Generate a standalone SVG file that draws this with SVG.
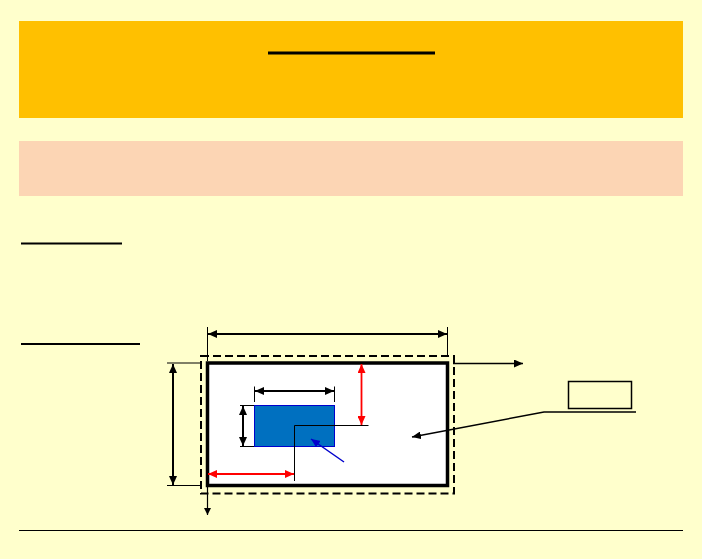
<svg xmlns="http://www.w3.org/2000/svg" width="702" height="559" viewBox="0 0 702 559">
<style>
.dim{stroke:#000;stroke-width:2;fill:none}
.red{stroke:#FF0000;stroke-width:1.8;fill:none}
.thin{stroke:#000;stroke-width:1;fill:none}
.ul{stroke:#000;fill:none}
</style>
<defs>
<marker id="ak" markerUnits="userSpaceOnUse" markerWidth="10" markerHeight="8" refX="9" refY="4" orient="auto-start-reverse"><path d="M0,0 L9,4 L0,8 z" fill="#000"/></marker>
<marker id="ar" markerUnits="userSpaceOnUse" markerWidth="10" markerHeight="8" refX="9" refY="4" orient="auto-start-reverse"><path d="M0,0 L9,4 L0,8 z" fill="#FF0000"/></marker>
<marker id="ab" markerUnits="userSpaceOnUse" markerWidth="10" markerHeight="8" refX="9" refY="4" orient="auto"><path d="M0,0 L9,4 L0,8 z" fill="#0000CC"/></marker>
<marker id="as" markerUnits="userSpaceOnUse" markerWidth="8" markerHeight="7" refX="7" refY="3.5" orient="auto"><path d="M0,0 L7,3.5 L0,7 z" fill="#000"/></marker>
</defs>
<rect x="0" y="0" width="702" height="559" fill="#FFFFCC"/>
<g id="header">
<rect x="19" y="21" width="664" height="97" fill="#FFC000"/>
<line class="ul" x1="268" y1="53" x2="435" y2="53" stroke-width="3"/>
</g>
<g id="subheader">
<rect x="19" y="141" width="664" height="55" fill="#FCD5B4"/>
</g>
<g id="headings">
<line class="ul" x1="21" y1="243.5" x2="122" y2="243.5" stroke-width="2"/>
<line class="ul" x1="21" y1="344" x2="140" y2="344" stroke-width="2"/>
</g>
<g id="outer-area">
<rect x="201" y="356" width="253" height="137.5" fill="none" stroke="#000" stroke-width="2" stroke-dasharray="8,4"/>
</g>
<g id="panel">
<rect x="207.5" y="363" width="240" height="122.5" fill="#FFFFFF" stroke="#000" stroke-width="3.5"/>
</g>
<g id="inner-block">
<rect x="254.5" y="405.5" width="80" height="41" fill="#0070C0" stroke="#0000CC" stroke-width="1"/>
</g>
<g id="label-box">
<rect x="568.5" y="381.5" width="63" height="27" fill="none" stroke="#000" stroke-width="1.5"/>
</g>
<g id="connectors">
<line class="thin" x1="207.5" y1="327" x2="207.5" y2="361"/>
<line class="thin" x1="447.5" y1="327" x2="447.5" y2="356"/>
<line class="dim" x1="208" y1="334" x2="447" y2="334" marker-start="url(#ak)" marker-end="url(#ak)"/>
<line class="thin" x1="167" y1="363" x2="201" y2="363"/>
<line class="thin" x1="167" y1="485.5" x2="201" y2="485.5"/>
<line class="dim" x1="173" y1="364" x2="173" y2="485" marker-start="url(#ak)" marker-end="url(#ak)"/>
<line class="thin" x1="254.5" y1="386.5" x2="254.5" y2="402"/>
<line class="thin" x1="334.5" y1="386.5" x2="334.5" y2="402"/>
<line class="dim" x1="255" y1="391" x2="334" y2="391" marker-start="url(#ak)" marker-end="url(#ak)"/>
<line class="thin" x1="240" y1="405.5" x2="254" y2="405.5"/>
<line class="thin" x1="240" y1="446.5" x2="254" y2="446.5"/>
<line class="dim" x1="243" y1="406" x2="243" y2="446" marker-start="url(#ak)" marker-end="url(#ak)"/>
<line class="red" x1="361.5" y1="364" x2="361.5" y2="425" marker-start="url(#ar)" marker-end="url(#ar)"/>
<polyline class="thin" points="368.5,425.5 294.5,425.5 294.5,481"/>
<line class="red" x1="208" y1="474" x2="294" y2="474" marker-start="url(#ar)" marker-end="url(#ar)"/>
<line x1="344" y1="462" x2="311" y2="439" stroke="#0000CC" stroke-width="1.5" marker-end="url(#ab)"/>
<polyline points="636,412 544,412 412,437" fill="none" stroke="#000" stroke-width="1.5" marker-end="url(#ak)"/>
<line x1="453" y1="363.5" x2="523" y2="363.5" stroke="#000" stroke-width="1.5" marker-end="url(#ak)"/>
<line x1="207.5" y1="487" x2="207.5" y2="515" stroke="#000" stroke-width="1.2" marker-end="url(#as)"/>
</g>
<g id="footer">
<line x1="19" y1="530.5" x2="683" y2="530.5" stroke="#000" stroke-width="1"/>
</g>
</svg>
